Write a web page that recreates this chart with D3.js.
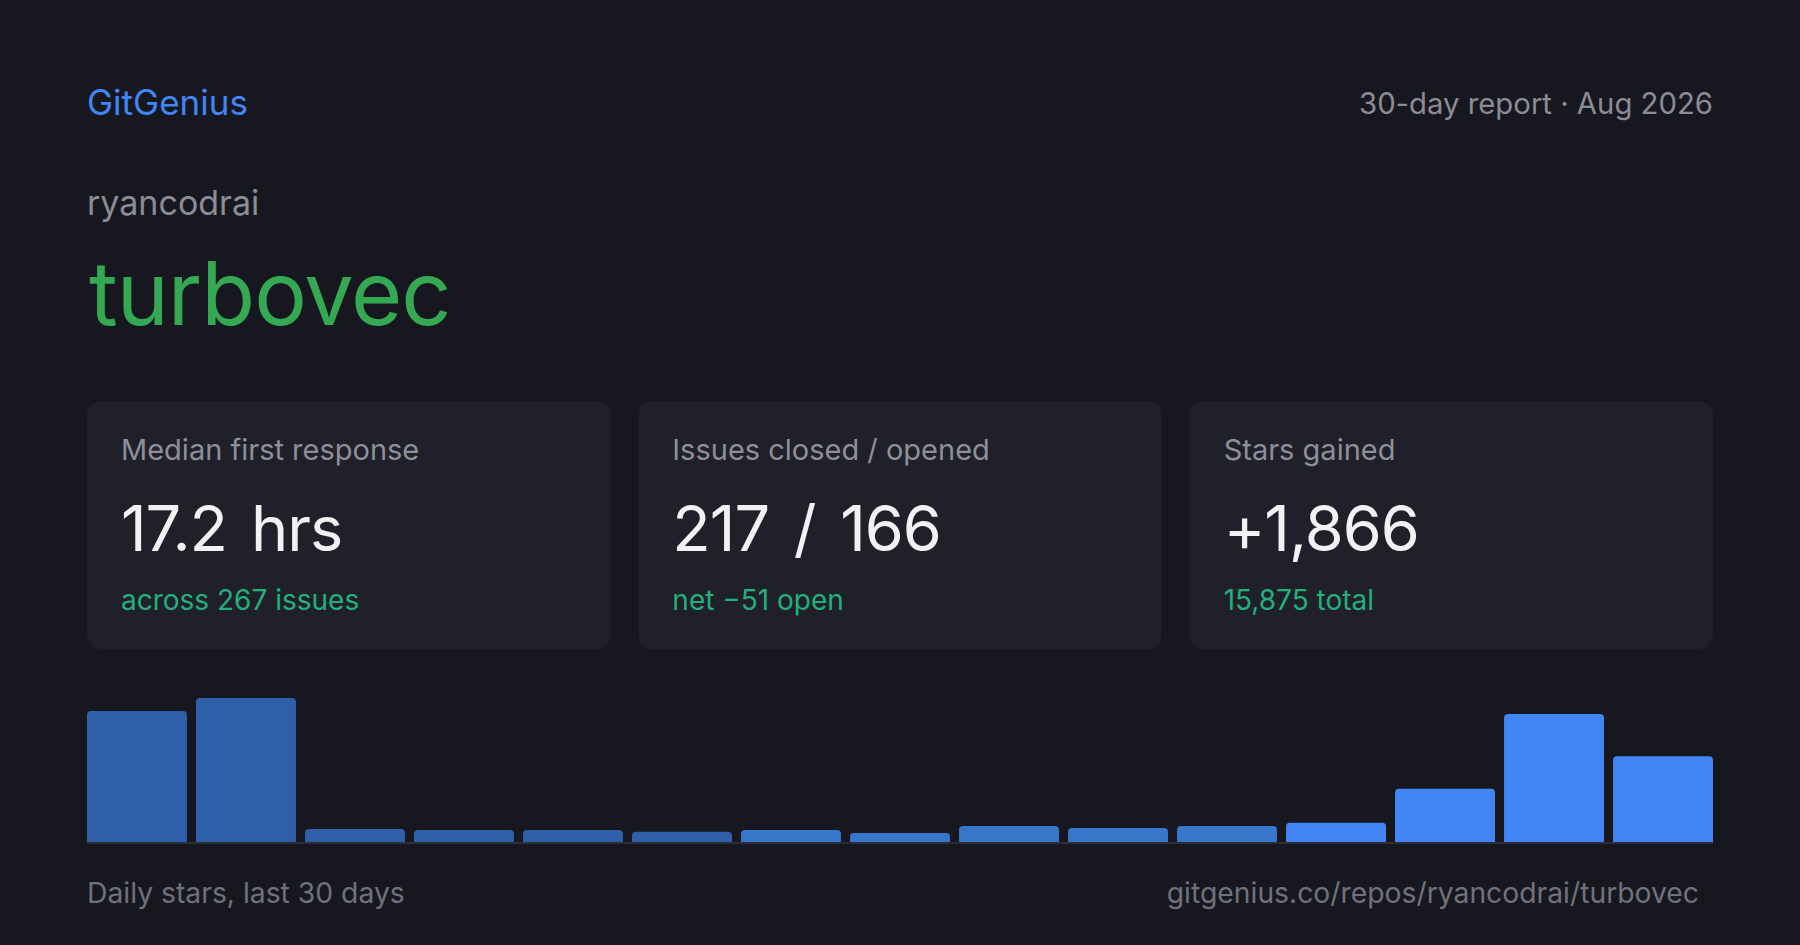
<!DOCTYPE html>
<html>
<head>
<meta charset="utf-8">
<script src="https://cdn.jsdelivr.net/npm/d3@7"></script>
<style>
  html, body { margin: 0; padding: 0; background: #17181f; }
  svg { display: block; font-family: Inter, "Noto Sans", sans-serif; }
</style>
</head>
<body>
<div class="container"></div>
<script>
// header texts
const brand = "GitGenius";
const reportLabel = "30-day report · Aug 2026";
const owner = "ryancodrai";
const repo = "turbovec";

// stat cards
const cardLabels = ["Median first response", "Issues closed / opened", "Stars gained"];
const cardValues = [["17.2", "hrs"], ["217 / 166"], ["+1,866"]];
const cardNotes = ["across 267 issues", "net −51 open", "15,875 total"];

// stars per bucket (2-day buckets over the last 30 days)
const dailyStars = [362, 398, 36, 33, 33, 28, 33, 25, 44, 39, 44, 53, 147, 354, 237];

const footerLeft = "Daily stars, last 30 days";
const footerRight = "gitgenius.co/repos/ryancodrai/turbovec";

// canvas
const width = 1800, height = 945;
const left = 87, right = 1713;

const svg = d3.select(".container")
  .append("svg")
  .attr("width", width)
  .attr("height", height);

svg.append("rect")
  .attr("width", width)
  .attr("height", height)
  .attr("fill", "#17181f");

// header
svg.append("text")
  .attr("x", left).attr("y", 115)
  .attr("font-size", 35)
  .attr("fill", "#4285f4")
  .text(brand);

svg.append("text")
  .attr("x", right).attr("y", 114)
  .attr("text-anchor", "end")
  .attr("font-size", 29.3)
  .attr("fill", "#8b8c96")
  .text(reportLabel);

svg.append("text")
  .attr("x", left).attr("y", 215)
  .attr("font-size", 34)
  .attr("fill", "#8b8c96")
  .text(owner);

svg.append("text")
  .attr("x", left + 2).attr("y", 325)
  .attr("font-size", 88)
  .attr("letter-spacing", -1)
  .attr("fill", "#34a853")
  .text(repo);

// cards laid out with a band scale
const cardScale = d3.scaleBand()
  .domain(d3.range(cardLabels.length))
  .range([left, right])
  .paddingInner(28 / ((right - left + 28) / 3));

const cards = svg.selectAll("g.card")
  .data(cardLabels)
  .join("g")
  .attr("class", "card")
  .attr("transform", (d, i) => `translate(${cardScale(i)}, 401)`);

cards.append("rect")
  .attr("width", cardScale.bandwidth())
  .attr("height", 248)
  .attr("rx", 14)
  .attr("fill", "#1f2029");

cards.append("text")
  .attr("x", 34).attr("y", 59)
  .attr("font-size", 29)
  .attr("fill", "#8e8f9a")
  .text(d => d);

cards.append("text")
  .attr("x", 34).attr("y", 150)
  .attr("font-size", 63)
  .attr("letter-spacing", -1)
  .attr("word-spacing", 8)
  .attr("fill", "#f2f2f4")
  .each(function(d, i) {
    const t = d3.select(this);
    cardValues[i].forEach((part, j) => {
      t.append("tspan")
        .attr("dx", j === 0 ? 0 : 24)
        .text(part);
    });
  });

cards.append("text")
  .attr("x", 34).attr("y", 209)
  .attr("font-size", 28)
  .attr("fill", "#22b07d")
  .text((d, i) => cardNotes[i]);

// bar chart
const baseY = 842;

const xScale = d3.scaleBand()
  .domain(d3.range(dailyStars.length))
  .range([left, right])
  .paddingInner(0.083)
  .paddingOuter(0);

const yScale = d3.scaleLinear()
  .domain([0, d3.max(dailyStars)])
  .range([baseY, 698]);

// older buckets are dimmer, recent ones brighter
const barColor = i => i < 6 ? "#2f5fa8" : i < 11 ? "#3677cb" : "#4285f4";

// bar with rounded top corners only
function barPath(x, y, w, h, r) {
  r = Math.min(r, h, w / 2);
  return `M${x},${y + h}V${y + r}Q${x},${y} ${x + r},${y}H${x + w - r}Q${x + w},${y} ${x + w},${y + r}V${y + h}Z`;
}

svg.append("g")
  .selectAll("path")
  .data(dailyStars)
  .join("path")
  .attr("fill", (d, i) => barColor(i))
  .attr("d", (d, i) => barPath(xScale(i), yScale(d), xScale.bandwidth(), baseY - yScale(d), 4));

// baseline
svg.append("rect")
  .attr("x", left).attr("y", baseY)
  .attr("width", right - left)
  .attr("height", 2)
  .attr("fill", "#2c2d3a");

// footer
svg.append("text")
  .attr("x", left).attr("y", 903)
  .attr("font-size", 28.3)
  .attr("fill", "#70717c")
  .text(footerLeft);

svg.append("text")
  .attr("x", 1699).attr("y", 903)
  .attr("text-anchor", "end")
  .attr("font-size", 28.3)
  .attr("fill", "#70717c")
  .text(footerRight);
</script>
</body>
</html>
